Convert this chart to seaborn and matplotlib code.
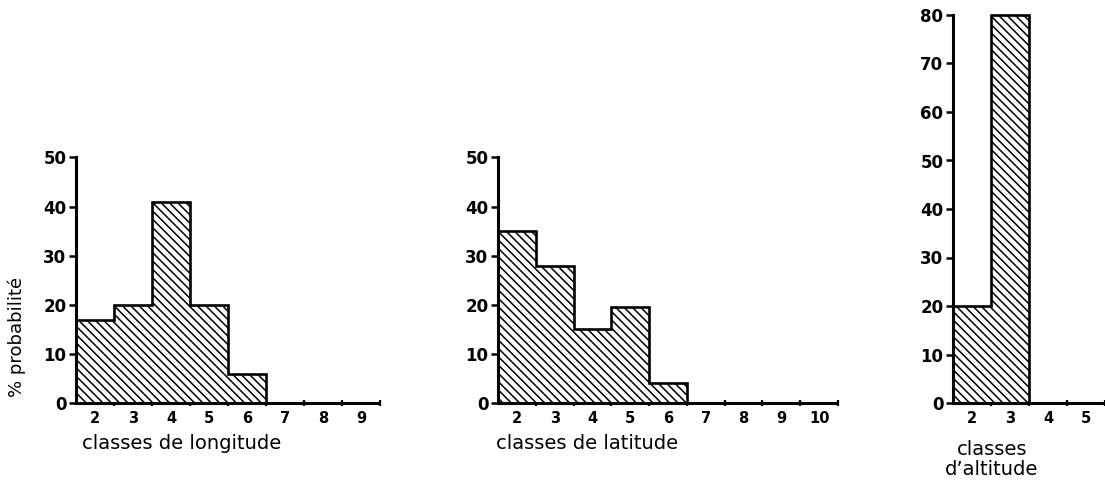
import numpy as np
import pandas as pd
import seaborn as sns
import matplotlib.pyplot as plt

# Probability (%) per class for each variable
longitude_classes = [2, 3, 4, 5, 6, 7, 8, 9]
longitude_pct = [17, 20, 41, 20, 6, 0, 0, 0]

latitude_classes = [2, 3, 4, 5, 6, 7, 8, 9, 10]
latitude_pct = [35, 28, 15, 19.5, 4, 0, 0, 0, 0]

altitude_classes = [2, 3, 4, 5]
altitude_pct = [20, 80, 0, 0]

sns.set_style("ticks")
plt.rcParams["font.family"] = ["DejaVu Sans"]
plt.rcParams["hatch.linewidth"] = 1.1
plt.rcParams["hatch.color"] = "black"
for key in ("text.color", "axes.labelcolor", "xtick.color", "ytick.color", "axes.edgecolor"):
    plt.rcParams[key] = "black"

W, H = 1105, 483
fig = plt.figure(figsize=(W / 100, H / 100), dpi=100)


def px_axes(x0, x1, y_top, y_zero):
    return fig.add_axes([x0 / W, (H - y_zero) / H, (x1 - x0) / W, (y_zero - y_top) / H])


def draw_hist(ax, classes, pct, ymax, xmax=None):
    df = pd.DataFrame({"classe": classes, "pct": pct})
    sns.barplot(data=df, x="classe", y="pct", native_scale=True, width=1.0,
                color="white", edgecolor="black", linewidth=0,
                hatch="\\\\\\\\", ax=ax, errorbar=None)
    edges = np.append(np.asarray(classes) - 0.5, classes[-1] + 0.5)
    ax.stairs(pct, edges, baseline=0, color="black", lw=1.9, clip_on=False, zorder=3)

    left = classes[0] - 0.5
    right = classes[-1] + 0.5 if xmax is None else xmax
    ax.set_xlim(left, right)
    ax.set_ylim(0, ymax)
    ax.set_yticks(np.arange(0, ymax + 1, 10))
    ax.set_xticks(classes)
    ax.set_xticks(list(np.asarray(classes[1:]) - 0.5) + [classes[-1] + 0.5], minor=True)
    ax.tick_params(axis="x", which="major", length=0, pad=6)
    ax.tick_params(axis="x", which="minor", length=4, width=1.6, direction="inout")
    ax.tick_params(axis="y", length=5, width=1.8, pad=2)
    for lab in ax.get_xticklabels():
        lab.set_fontweight("bold")
        lab.set_fontsize(10.5)
    for lab in ax.get_yticklabels():
        lab.set_fontweight("bold")
        lab.set_fontsize(12)
    sns.despine(ax=ax)
    for side in ("left", "bottom"):
        ax.spines[side].set_linewidth(2.2)
        ax.spines[side].set_color("black")
    ax.spines["bottom"].set_capstyle("butt")
    ax.set_facecolor("white")


ax1 = px_axes(76, 380, 157.5, 403)
draw_hist(ax1, longitude_classes, longitude_pct, 50)
ax1.set_xlabel("classes de longitude", fontsize=14, loc="left")
ax1.xaxis.set_label_coords(6 / 304, -0.125)
ax1.set_ylabel("% probabilité", fontsize=13)
ax1.yaxis.set_label_coords(-0.165, 0.27)

ax2 = px_axes(498, 838, 157.5, 403)
draw_hist(ax2, latitude_classes, latitude_pct, 50)
ax2.set_xlabel("classes de latitude", fontsize=14, loc="left")
ax2.xaxis.set_label_coords(-2 / 340, -0.125)
ax2.set_ylabel("")

ax3 = px_axes(953, 1105, 15, 403)
draw_hist(ax3, altitude_classes, altitude_pct, 80, xmax=1.5 + 152 / 39.5)
ax3.set_xlabel("classes\nd’altitude", fontsize=14, linespacing=1.05)
ax3.xaxis.set_label_coords(39 / 152, -0.095)
ax3.set_ylabel("")

fig.savefig("out.png", dpi=100, facecolor="white")
